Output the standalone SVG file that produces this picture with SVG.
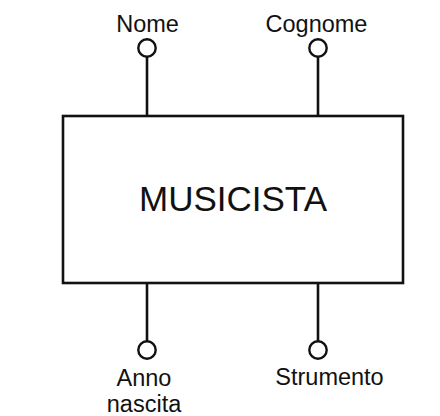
<svg xmlns="http://www.w3.org/2000/svg" width="440" height="416" viewBox="0 0 440 416">
<style>
.s{fill:none;stroke:#111;stroke-width:2.6}
.c{fill:#fff;stroke:#111;stroke-width:2.4}
.t{font-family:"Liberation Sans",Arial,sans-serif;font-size:23.5px;fill:#111;text-anchor:middle}
.big{font-family:"Liberation Sans",Arial,sans-serif;font-size:35px;fill:#111;text-anchor:middle}
</style>
<rect width="440" height="416" fill="#fff"/>
<g id="connectors">
<line class="s" x1="147" y1="57" x2="147" y2="116"/>
<line class="s" x1="318" y1="57" x2="318" y2="116"/>
<line class="s" x1="147" y1="283" x2="147" y2="341"/>
<line class="s" x1="318" y1="283" x2="318" y2="341"/>
</g>
<g id="musicista">
<rect class="s" x="63" y="116" width="340" height="167"/>
<text class="big" x="233" y="211">MUSICISTA</text>
</g>
<g id="nome">
<circle class="c" cx="147" cy="48" r="8.7"/>
<text class="t" x="147.5" y="31.5">Nome</text>
</g>
<g id="cognome">
<circle class="c" cx="318" cy="48" r="8.7"/>
<text class="t" x="316.5" y="31.5">Cognome</text>
</g>
<g id="anno">
<circle class="c" cx="147" cy="350" r="8.7"/>
<text class="t" x="144" y="385.5">Anno</text>
<text class="t" x="144" y="411.5">nascita</text>
</g>
<g id="strumento">
<circle class="c" cx="318" cy="350" r="8.7"/>
<text class="t" x="329.5" y="385">Strumento</text>
</g>
</svg>
